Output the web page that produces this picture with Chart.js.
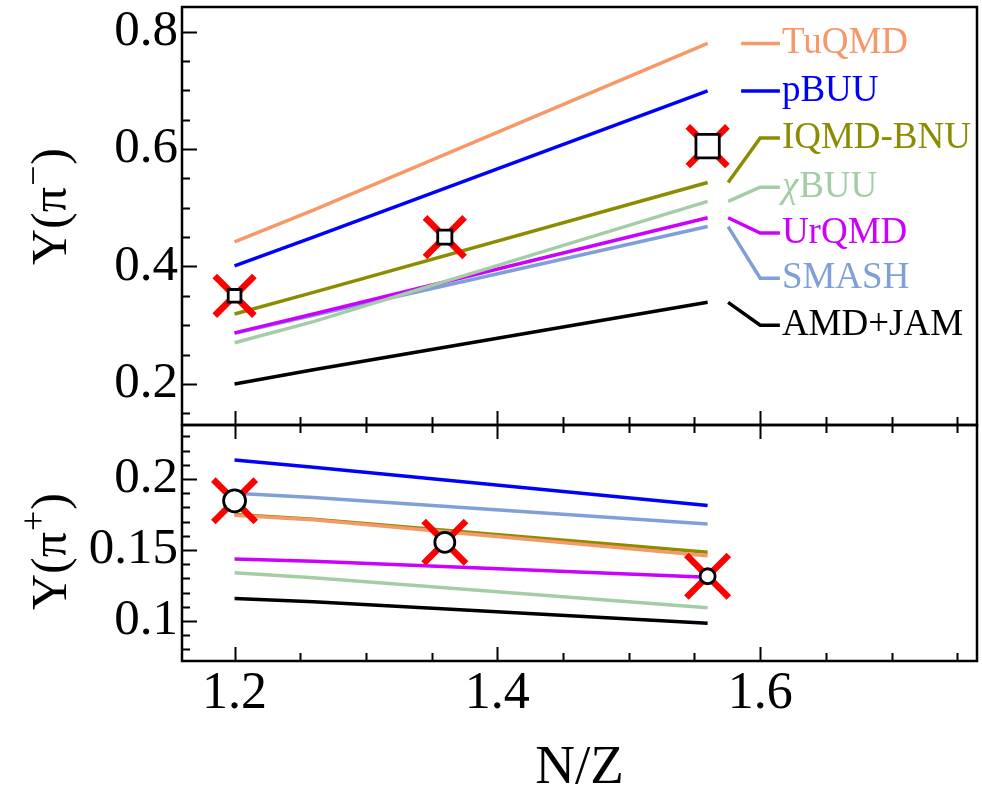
<!DOCTYPE html>
<html>
<head>
<meta charset="utf-8">
<script src="https://cdn.jsdelivr.net/npm/chart.js@4.4.0/dist/chart.umd.min.js"></script>
<style>
  html, body { margin: 0; padding: 0; background: #fff; }
  #wrap { position: relative; width: 982px; height: 788px; }
  canvas { position: absolute; left: 0; }
  #topChart { top: 0; }
  #bottomChart { top: 420px; }
</style>
</head>
<body>
<div id="wrap">
  <canvas id="topChart" width="982" height="430"></canvas>
  <canvas id="bottomChart" width="982" height="368"></canvas>
</div>
<script>
'use strict';

// N/Z of the model curves and of the data points
const nzModel = [1.2, 1.26, 1.56];
const nzExp = [1.2, 1.36, 1.56];

const modelNames = ['TuQMD', 'pBUU', 'IQMD-BNU', 'χBUU', 'UrQMD', 'SMASH', 'AMD+JAM'];
const modelColors = ['#f79868', '#0000ff', '#8c8c00', '#a5cda5', '#cc00ff', '#7f9fd8', '#000000'];

// Y(pi-) per model
const tuqmdMinus = [0.442, 0.496, 0.780];
const pbuuMinus = [0.401, 0.450, 0.699];
const iqmdMinus = [0.319, 0.356, 0.543];
const chibuuMinus = [0.270, 0.306, 0.511];
const urqmdMinus = [0.287, 0.319, 0.483];
const smashMinus = [0.286, 0.317, 0.468];
const amdMinus = [0.200, 0.224, 0.339];

// Y(pi+) per model
const tuqmdPlus = [0.1745, 0.1713, 0.1460];
const pbuuPlus = [0.2133, 0.2082, 0.1813];
const iqmdPlus = [0.1750, 0.1716, 0.1484];
const chibuuPlus = [0.1339, 0.1304, 0.1093];
const urqmdPlus = [0.1437, 0.1420, 0.1308];
const smashPlus = [0.1900, 0.1869, 0.1682];
const amdPlus = [0.1159, 0.1136, 0.0984];

// experiment
const expMinus = [0.350, 0.450, 0.605];
const expPlus = [0.1846, 0.1554, 0.1315];

// label heights of the model names (top panel)
const legendY = [0.780, 0.699, 0.619, 0.535, 0.457, 0.380, 0.300];

// tick labels
const topTicks = [0.2, 0.4, 0.6, 0.8];
const bottomTicks = [0.1, 0.15, 0.2];
const xTicks = [1.2, 1.4, 1.6];

const minusSeries = [tuqmdMinus, pbuuMinus, iqmdMinus, chibuuMinus, urqmdMinus, smashMinus, amdMinus];
const plusSeries = [tuqmdPlus, pbuuPlus, iqmdPlus, chibuuPlus, urqmdPlus, smashPlus, amdPlus];

const FONT = "'Liberation Serif', 'Times New Roman', serif";
Chart.defaults.font.family = FONT;
Chart.defaults.color = '#000';

function lineSet(values, color) {
    return {
        data: nzModel.map((x, i) => ({ x: x, y: values[i] })),
        borderColor: color,
        borderWidth: 3.5,
        pointRadius: 0,
        tension: 0,
        fill: false,
        order: 3
    };
}

function crossSet(values, radius) {
    return {
        data: nzExp.map((x, i) => ({ x: x, y: values[i] })),
        showLine: false,
        pointStyle: 'crossRot',
        pointRadius: radius,
        pointBorderWidth: 6.5,
        pointBorderColor: '#ff0000',
        borderColor: '#ff0000',
        order: 1
    };
}

function markerSet(values, style, radii) {
    return {
        data: nzExp.map((x, i) => ({ x: x, y: values[i] })),
        showLine: false,
        pointStyle: style,
        pointRadius: radii,
        pointBorderWidth: 2.8,
        pointBorderColor: '#000',
        pointBackgroundColor: '#fff',
        order: 0
    };
}

/**
 * Frame, inward ticks and axis titles
 */
const frameTicks = {
    id: 'frameTicks',
    afterDraw(chart, args, opts) {
        const { ctx, chartArea: a, scales } = chart;
        const xs = scales.x, ys = scales.y;
        ctx.save();
        ctx.strokeStyle = '#000';
        ctx.lineWidth = 2;

        // y ticks on the left edge
        const yk0 = Math.ceil(ys.min / opts.yStep - 1e-6);
        for (let k = yk0; k * opts.yStep <= ys.max + 1e-9; k++) {
            const v = k * opts.yStep;
            const major = opts.yMajor.some(m => Math.abs(m - v) < 1e-6);
            const py = Math.round(ys.getPixelForValue(v)) + 0.5;
            ctx.beginPath();
            ctx.moveTo(a.left, py);
            ctx.lineTo(a.left + (major ? 15 : 8), py);
            ctx.stroke();
        }

        // x ticks on selected edges
        const xk0 = Math.ceil(xs.min / 0.05 - 1e-6);
        for (let k = xk0; k * 0.05 <= xs.max + 1e-9; k++) {
            const v = k * 0.05;
            const major = xTicks.some(m => Math.abs(m - v) < 1e-6);
            const px = Math.round(xs.getPixelForValue(v)) + 0.5;
            const len = major ? 14 : 8;
            opts.xEdges.forEach(edge => {
                ctx.beginPath();
                if (edge === 'bottom') {
                    ctx.moveTo(px, a.bottom);
                    ctx.lineTo(px, a.bottom - len);
                } else {
                    ctx.moveTo(px, a.top);
                    ctx.lineTo(px, a.top + len);
                }
                ctx.stroke();
            });
        }

        // frame
        ctx.lineWidth = 2.5;
        ctx.strokeRect(a.left, a.top, a.right - a.left, a.bottom - a.top);

        // rotated y title: Y(pi^sup)
        const t = opts.yTitle;
        ctx.translate(t.x, t.y);
        ctx.rotate(-Math.PI / 2);
        ctx.fillStyle = '#000';
        ctx.textBaseline = 'alphabetic';
        ctx.textAlign = 'left';
        ctx.font = '50px ' + FONT;
        ctx.fillText('Y(π', 0, 0);
        let w = ctx.measureText('Y(π').width;
        ctx.font = '36px ' + FONT;
        ctx.fillText(t.sup, w + 1, -21);
        w += ctx.measureText(t.sup).width + 2;
        ctx.font = '50px ' + FONT;
        ctx.fillText(')', w, 0);
        ctx.restore();

        if (opts.xTitle) {
            ctx.save();
            ctx.fillStyle = '#000';
            ctx.font = '55px ' + FONT;
            ctx.textAlign = 'center';
            ctx.textBaseline = 'alphabetic';
            ctx.fillText(opts.xTitle.text, (a.left + a.right) / 2, opts.xTitle.y);
            ctx.restore();
        }
    }
};

/**
 * Model names with leader lines (top panel)
 */
const modelLabels = {
    id: 'modelLabels',
    afterDatasetsDraw(chart) {
        const { ctx, scales: { x, y } } = chart;
        ctx.save();
        ctx.lineWidth = 3.5;
        ctx.textBaseline = 'alphabetic';
        ctx.textAlign = 'left';
        modelNames.forEach((name, i) => {
            const vals = minusSeries[i];
            const last = vals[vals.length - 1];
            const ly = y.getPixelForValue(legendY[i]);
            const xEnd = x.getPixelForValue(1.615);
            ctx.strokeStyle = modelColors[i];
            ctx.beginPath();
            if (Math.abs(legendY[i] - last) < 0.01) {
                ctx.moveTo(x.getPixelForValue(1.5855), ly);
            } else {
                ctx.moveTo(x.getPixelForValue(1.5756), y.getPixelForValue(last));
                ctx.lineTo(x.getPixelForValue(1.600), ly);
            }
            ctx.lineTo(xEnd, ly);
            ctx.stroke();

            ctx.fillStyle = modelColors[i];
            let tx = xEnd + 2;
            let text = name;
            if (text.startsWith('χ')) {
                ctx.font = 'italic 37px ' + FONT;
                ctx.fillText('χ', tx, ly + 10);
                tx += ctx.measureText('χ').width + 1;
                text = text.slice(1);
            }
            ctx.font = '37px ' + FONT;
            ctx.fillText(text, tx, ly + 10);
        });
        ctx.restore();
    }
};

function yScale(min, max, ticks) {
    return {
        type: 'linear',
        min: min,
        max: max,
        afterBuildTicks: s => { s.ticks = ticks.map(v => ({ value: v })); },
        afterFit: s => { s.width = 182; s.paddingTop = 0; s.paddingBottom = 0; },
        grid: { display: false, drawTicks: false },
        border: { display: false },
        ticks: {
            autoSkip: false,
            padding: 4,
            color: '#000',
            font: { size: 51 },
            callback: v => String(v)
        }
    };
}

const commonOptions = {
    responsive: false,
    animation: false,
    events: [],
    plugins: { legend: { display: false }, tooltip: { enabled: false } }
};

const topChart = new Chart(document.getElementById('topChart'), {
    type: 'line',
    data: {
        datasets: [
            markerSet(expMinus, 'rect', [9, 10, 16.5]),
            crossSet(expMinus, 28),
            ...minusSeries.map((s, i) => lineSet(s, modelColors[i]))
        ]
    },
    options: {
        ...commonOptions,
        layout: { autoPadding: false, padding: { left: 0, top: 7, right: 5, bottom: 5 } },
        scales: {
            x: { type: 'linear', min: 1.16, max: 1.765, display: false },
            y: yScale(0.13, 0.842, topTicks)
        },
        plugins: {
            ...commonOptions.plugins,
            frameTicks: { yStep: 0.05, yMajor: topTicks, xEdges: ['bottom'], yTitle: { x: 66, y: 265, sup: '−' } }
        }
    },
    plugins: [frameTicks, modelLabels]
});

const bottomChart = new Chart(document.getElementById('bottomChart'), {
    type: 'line',
    data: {
        datasets: [
            markerSet(expPlus, 'circle', [11, 10, 7.5]),
            crossSet(expPlus, 30),
            ...plusSeries.map((s, i) => lineSet(s, modelColors[i]))
        ]
    },
    options: {
        ...commonOptions,
        layout: { autoPadding: false, padding: { left: 0, top: 5, right: 5, bottom: 0 } },
        scales: {
            x: {
                type: 'linear',
                min: 1.16,
                max: 1.765,
                afterBuildTicks: s => { s.ticks = xTicks.map(v => ({ value: v })); },
                afterFit: s => { s.height = 127; s.paddingLeft = 0; s.paddingRight = 0; },
                grid: { display: false, drawTicks: false },
                border: { display: false },
                ticks: {
                    autoSkip: false,
                    maxRotation: 0,
                    padding: 2,
                    color: '#000',
                    font: { size: 52 },
                    callback: v => String(v)
                }
            },
            y: yScale(0.0718, 0.238, bottomTicks)
        },
        plugins: {
            ...commonOptions.plugins,
            frameTicks: {
                yStep: 0.01, yMajor: bottomTicks, xEdges: ['top', 'bottom'],
                yTitle: { x: 66, y: 190, sup: '+' },
                xTitle: { text: 'N/Z', y: 363 }
            }
        }
    },
    plugins: [frameTicks]
});
</script>
</body>
</html>
